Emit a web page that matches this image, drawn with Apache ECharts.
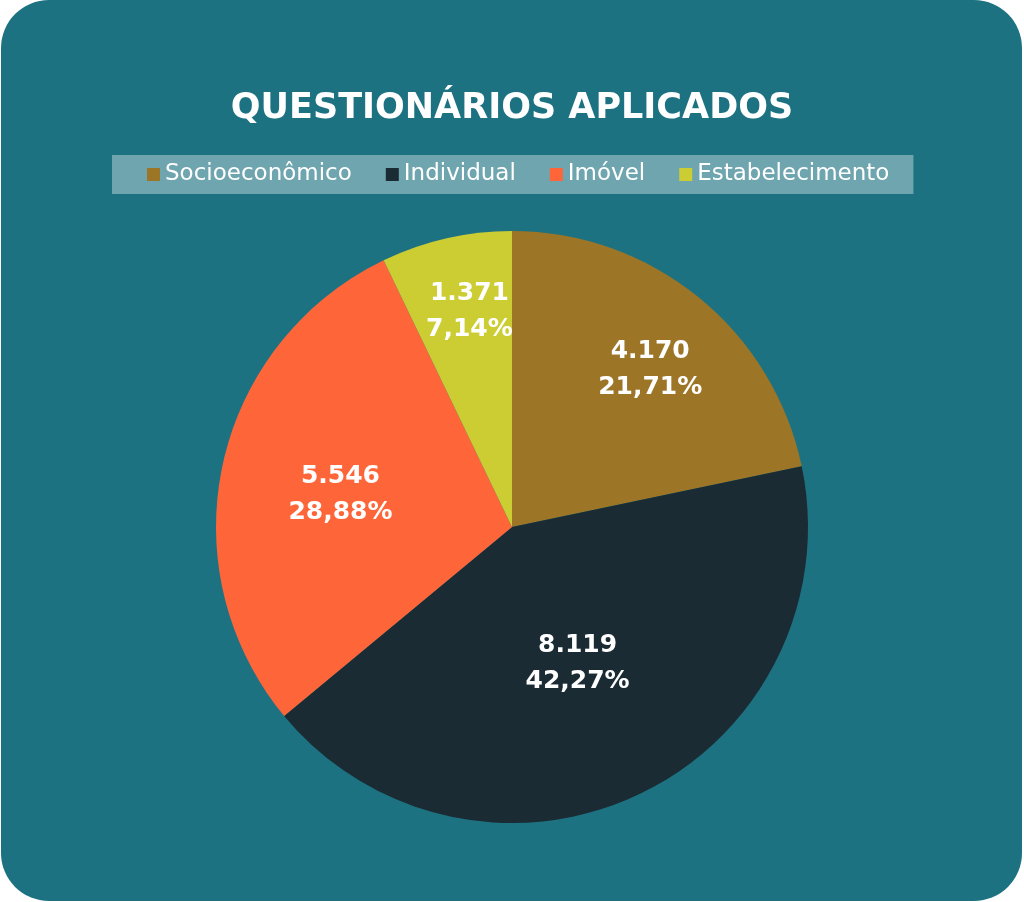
<!DOCTYPE html>
<html>
  <head>
    <meta charset="utf-8" />
    <title>Questionários aplicados</title>
    <script src="https://cdn.jsdelivr.net/npm/echarts@6.0.0/dist/echarts.min.js"></script>
    <style>
      html, body { margin: 0; padding: 0; background: #ffffff; }
    </style>
  </head>
  <body>
    <div id="main" style="width: 1024px; height: 902px"></div>
    <script type="text/javascript">
      var categories = ["Socioeconômico", "Individual", "Imóvel", "Estabelecimento"];
      var values = [4170, 8119, 5546, 1371];
      var colors = ["#9c7527", "#1b2b33", "#fe663a", "#cccc33"];
      // nudge of each inside label from its default spot
      var labelShift = [[43, -40], [0, 0], [-24, 0], [-9, -68]];

      var myChart = echarts.init(document.getElementById("main"));

      function fmtInt(v) {
        return String(v).replace(/\B(?=(\d{3})+(?!\d))/g, ".");
      }

      var option = {
        backgroundColor: "#ffffff",
        color: colors,
        graphic: [
          {
            type: "rect",
            z: -10,
            silent: true,
            shape: { x: 1, y: 0, width: 1021, height: 901, r: 48 },
            style: { fill: "#1d7282" },
          },
        ],
        title: {
          text: "QUESTIONÁRIOS APLICADOS",
          left: "center",
          top: 86,
          textStyle: {
            color: "#ffffff",
            fontFamily: "DejaVu Sans",
            fontWeight: 700,
            fontSize: 35,
          },
        },
        legend: {
          top: 155,
          left: 112,
          backgroundColor: "#6fa5ae",
          padding: [8, 24, 8, 35],
          itemWidth: 13,
          itemHeight: 13,
          itemGap: 34,
          icon: "rect",
          textStyle: {
            color: "#ffffff",
            fontFamily: "DejaVu Sans",
            fontSize: 23,
          },
          data: categories,
        },
        series: [
          {
            type: "pie",
            center: [512, 527],
            radius: 296,
            startAngle: 90,
            clockwise: true,
            percentPrecision: 2,
            label: {
              show: true,
              position: "inside",
              color: "#ffffff",
              fontFamily: "DejaVu Sans",
              fontWeight: 700,
              fontSize: 25,
              lineHeight: 36,
              formatter: function (p) {
                return fmtInt(p.value) + "\n" + p.percent.toFixed(2).replace(".", ",") + "%";
              },
            },
            labelLayout: function (p) {
              var s = labelShift[p.dataIndex];
              return { dx: s[0], dy: s[1] };
            },
            labelLine: { show: false },
            emphasis: { disabled: true },
            data: categories.map(function (c, i) {
              return { name: c, value: values[i] };
            }),
          },
        ],
      };
      myChart.setOption(option);
    </script>
  </body>
</html>
